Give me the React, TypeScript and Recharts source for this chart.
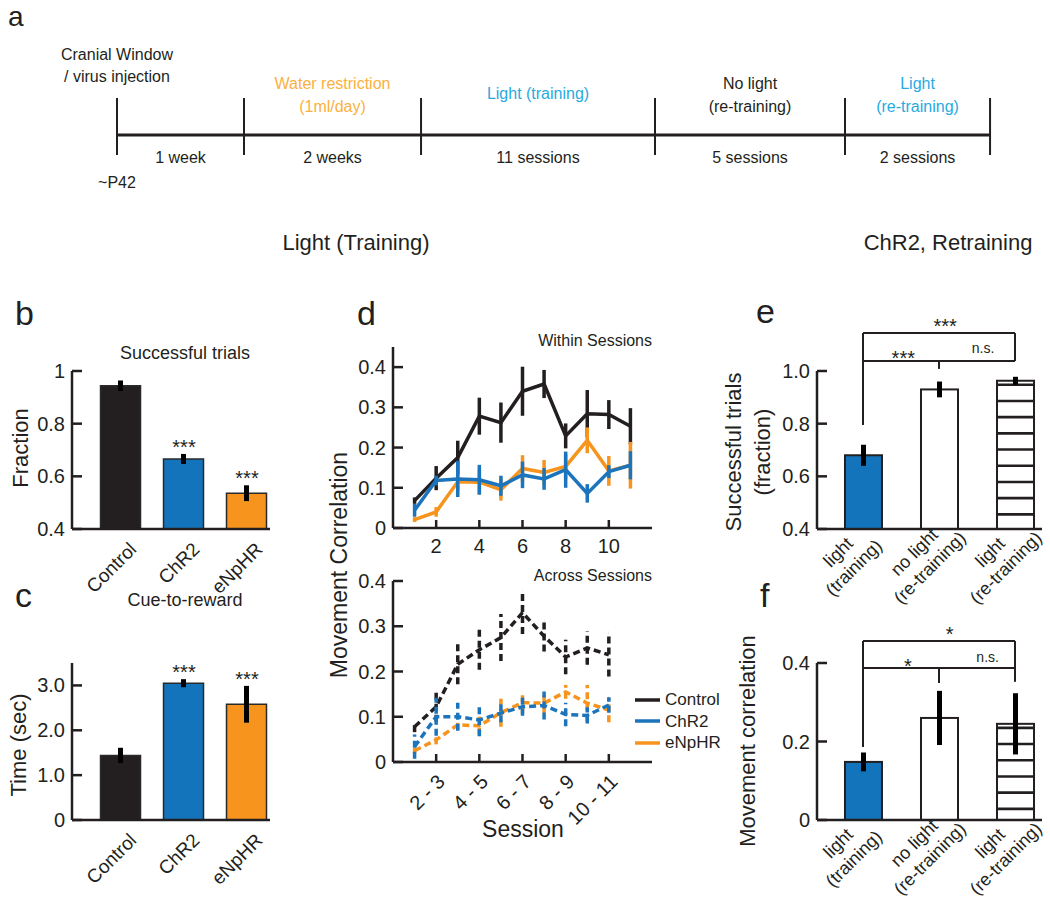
import React from 'react';
import {
  ComposedChart, Bar, Line, XAxis, YAxis, ErrorBar, Cell,
  ReferenceLine, ReferenceDot, Legend,
} from 'recharts';

const FONT = '"Liberation Sans", Arial, Helvetica, sans-serif';
const BLACK = '#231f20';
const BLUE = '#1c75bc';
const BAR_BLUE = '#1374bb';
const ORANGE = '#f7941d';
const TL_ORANGE = '#fbb040';
const TL_BLUE = '#27aae1';

// ---------- panel a (timeline) ----------
const stageEdges = [0, 1, 2.394, 4.236, 5.732, 6.874];
const stageDurations = ['1 week', '2 weeks', '11 sessions', '5 sessions', '2 sessions'];
const stageTitles: string[][] = [[], ['Water restriction', '(1ml/day)'], ['Light (training)'], ['No light', '(re-training)'], ['Light', '(re-training)']];
const stageTitleColors = [BLACK, TL_ORANGE, TL_BLUE, BLACK, TL_BLUE];
const startNotes = ['Cranial Window', '/ virus injection'];
const startAge = '~P42';

// ---------- panels b, c ----------
const groups = ['Control', 'ChR2', 'eNpHR'];
const groupColors = [BLACK, BAR_BLUE, ORANGE];
const successMean = [0.944, 0.666, 0.536];
const successErr = [0.02, 0.019, 0.03];
const successSig = ['', '***', '***'];
const successTicks = [0.4, 0.6, 0.8, 1];
const cueMean = [1.44, 3.05, 2.58];
const cueErr = [0.17, 0.09, 0.41];
const cueSig = ['', '***', '***'];
const cueTicks = [0, 1, 2, 3];

// ---------- panel d ----------
const sessions = [1, 2, 3, 4, 5, 6, 7, 8, 9, 10, 11];
const withinControl = [0.068, 0.124, 0.175, 0.278, 0.262, 0.34, 0.358, 0.229, 0.284, 0.282, 0.253];
const withinControlErr = [0.008, 0.03, 0.042, 0.046, 0.05, 0.061, 0.035, 0.031, 0.059, 0.036, 0.045];
const withinChR2 = [0.044, 0.118, 0.122, 0.12, 0.105, 0.132, 0.122, 0.145, 0.086, 0.14, 0.156];
const withinChR2Err = [0.016, 0.012, 0.045, 0.037, 0.025, 0.033, 0.027, 0.045, 0.023, 0.016, 0.035];
const withinEnphr = [0.021, 0.04, 0.115, 0.114, 0.095, 0.148, 0.138, 0.153, 0.218, 0.142, 0.156];
const withinEnphrErr = [0.006, 0.012, 0.023, 0.031, 0.027, 0.033, 0.031, 0.031, 0.032, 0.037, 0.058];
const sessionTicks = [2, 4, 6, 8, 10];

const sessionPairs = ['1 - 2', '2 - 3', '3 - 4', '4 - 5', '5 - 6', '6 - 7', '7 - 8', '8 - 9', '9 - 10', '10 - 11'];
const acrossControl = [0.078, 0.122, 0.216, 0.248, 0.275, 0.33, 0.278, 0.232, 0.252, 0.237];
const acrossControlErr = [0.012, 0.033, 0.044, 0.044, 0.052, 0.047, 0.034, 0.038, 0.037, 0.048];
const acrossChR2 = [0.034, 0.1, 0.1, 0.093, 0.108, 0.122, 0.125, 0.105, 0.103, 0.126];
const acrossChR2Err = [0.027, 0.042, 0.031, 0.036, 0.02, 0.02, 0.031, 0.026, 0.018, 0.017];
const acrossEnphr = [0.025, 0.049, 0.082, 0.08, 0.109, 0.131, 0.13, 0.155, 0.13, 0.115];
const acrossEnphrErr = [0.006, 0.01, 0.011, 0.02, 0.031, 0.023, 0.022, 0.015, 0.04, 0.027];
const corrTicks = [0, 0.1, 0.2, 0.3, 0.4];
const seriesColors = [BLACK, BLUE, ORANGE];

// ---------- panels e, f ----------
const condLine1 = ['light', 'no light', 'light'];
const condLine2 = ['(training)', '(re-training)', '(re-training)'];
const condPattern = ['blue', 'white', 'stripe'];
const retrainSuccessMean = [0.68, 0.93, 0.963];
const retrainSuccessErr = [0.04, 0.03, 0.015];
const retrainSuccessTicks = [0.4, 0.6, 0.8, 1.0];
const retrainCorrMean = [0.148, 0.26, 0.245];
const retrainCorrErr = [0.024, 0.069, 0.078];
const retrainCorrTicks = [0, 0.2, 0.4];
// bracket segments: [x1, y1, x2, y2]
const successBrackets = [[1, 1.144, 3, 1.144], [1, 0.795, 1, 1.144], [3, 1.038, 3, 1.144], [1, 1.038, 3, 1.038], [2, 1.008, 2, 1.038]];
const successSigLabels = [{ x: 2.08, y: 1.19, t: '***' }, { x: 1.53, y: 1.068, t: '***' }, { x: 2.58, y: 1.087, t: 'n.s.' }];
const corrBrackets = [[1, 0.456, 3, 0.456], [1, 0.186, 1, 0.456], [3, 0.352, 3, 0.456], [1, 0.387, 3, 0.387], [2, 0.349, 2, 0.387]];
const corrSigLabels = [{ x: 2.14, y: 0.487, t: '*' }, { x: 1.59, y: 0.405, t: '*' }, { x: 2.64, y: 0.415, t: 'n.s.' }];

// ---------- helpers ----------
const AX = { stroke: BLACK, strokeWidth: 2.5 };

const makeYTick = (fmt: (v: number) => string, size = 20) => (props: any) => {
  const { x, y, payload } = props;
  return (
    <g>
      <line x1={x + 7} x2={x + 17} y1={y} y2={y} stroke={BLACK} strokeWidth={2.5} />
      <text x={x} y={y} textAnchor="end" dominantBaseline="central" fontSize={size} fontFamily={FONT} fill={BLACK}>
        {fmt(payload.value)}
      </text>
    </g>
  );
};

const fmt1 = (v: number) => (v === 0 ? '0' : v.toFixed(1));
const fmtB = (v: number) => (v === 1 ? '1' : v.toFixed(1));

const GroupXTick = (props: any) => {
  const { x, y, payload } = props;
  const label = groups[payload.value - 1];
  return (
    <text transform={`translate(${x + 12},${y + 17}) rotate(-45)`} textAnchor="end" dominantBaseline="central"
      fontSize={19} fontFamily={FONT} fill={BLACK}>{label}</text>
  );
};

const CondXTick = (props: any) => {
  const { x, y, payload } = props;
  const i = payload.value - 1;
  return (
    <g transform={`translate(${x - 17},${y + 31}) rotate(-45)`}>
      <text x={0} y={-11} textAnchor="middle" dominantBaseline="central" fontSize={18} fontFamily={FONT} fill={BLACK}>{condLine1[i]}</text>
      <text x={0} y={11} textAnchor="middle" dominantBaseline="central" fontSize={18} fontFamily={FONT} fill={BLACK}>{condLine2[i]}</text>
    </g>
  );
};

const SessionXTick = (props: any) => {
  const { x, y, payload } = props;
  return (
    <g>
      <line x1={x} x2={x} y1={y} y2={y - 8} stroke={BLACK} strokeWidth={2.5} />
      <text x={x} y={y + 18} textAnchor="middle" dominantBaseline="central" fontSize={20} fontFamily={FONT} fill={BLACK}>{payload.value}</text>
    </g>
  );
};

const PairXTick = (props: any) => {
  const { x, y, payload } = props;
  return (
    <g>
      <line x1={x} x2={x} y1={y} y2={y - 8} stroke={BLACK} strokeWidth={2.5} />
      <text transform={`translate(${x + 5},${y + 16}) rotate(-45)`} textAnchor="end" dominantBaseline="central"
        fontSize={20} fontFamily={FONT} fill={BLACK}>{sessionPairs[payload.value - 1]}</text>
    </g>
  );
};

const sigShape = (t: string) => (p: any) => {
  if (t === 'n.s.') {
    return <text x={p.cx} y={p.cy} textAnchor="middle" dominantBaseline="central" fontSize={14} fontFamily={FONT} fill={BLACK}>{t}</text>;
  }
  return <text x={p.cx} y={p.cy + 12} textAnchor="middle" fontSize={20} fontFamily={FONT} fill={BLACK}>{t}</text>;
};

const barSigShape = (t: string) => (p: any) => (
  <text x={p.cx} y={p.cy} textAnchor="middle" fontSize={20} fontFamily={FONT} fill={BLACK}>{t}</text>
);

const ConditionBar = (props: any) => {
  const { x, y, width, height, index } = props;
  const pattern = props.payload?.pattern ?? condPattern[index];
  const stripes: React.ReactNode[] = [];
  if (pattern === 'stripe') {
    for (let yy = y + 4; yy < y + height - 4; yy += 16.2) {
      stripes.push(<line key={yy} x1={x} x2={x + width} y1={yy} y2={yy} stroke={BLACK} strokeWidth={2.6} />);
    }
  }
  return (
    <g>
      <rect x={x} y={y} width={width} height={height} fill={pattern === 'blue' ? BAR_BLUE : '#ffffff'} stroke={BLACK} strokeWidth={2} />
      {stripes}
    </g>
  );
};

// ---------- panel a ----------
const stageLabelShape = (i: number) => (p: any) => {
  const above = stageTitles[i];
  const ys = above.length === 2 ? [-52, -29] : [-42];
  return (
    <g>
      {above.map((t, k) => (
        <text key={k} x={p.cx} y={p.cy + ys[k]} textAnchor="middle" dominantBaseline="central" fontSize={16} fontFamily={FONT} fill={stageTitleColors[i]}>{t}</text>
      ))}
      <text x={p.cx} y={p.cy + 22} textAnchor="middle" dominantBaseline="central" fontSize={16} fontFamily={FONT} fill={BLACK}>{stageDurations[i]}</text>
    </g>
  );
};
const StartLabel = (p: any) => (
  <g>
    <text x={p.cx} y={p.cy - 81} textAnchor="middle" dominantBaseline="central" fontSize={16} fontFamily={FONT} fill={BLACK}>{startNotes[0]}</text>
    <text x={p.cx} y={p.cy - 59} textAnchor="middle" dominantBaseline="central" fontSize={16} fontFamily={FONT} fill={BLACK}>{startNotes[1]}</text>
    <text x={p.cx} y={p.cy + 47} textAnchor="middle" dominantBaseline="central" fontSize={16} fontFamily={FONT} fill={BLACK}>{startAge}</text>
  </g>
);

function Timeline() {
  const edgeData = stageEdges.map((t) => ({ t, y: 0 }));
  return (
    <div style={{ position: 'absolute', left: 0, top: 0 }}>
      <ComposedChart width={1050} height={200} data={edgeData} margin={{ top: 0, right: 0, bottom: 0, left: 0 }}>
        <XAxis type="number" dataKey="t" domain={[-0.921, 7.346]} hide />
        <YAxis type="number" domain={[-65, 135]} hide />
        <Line dataKey="y" stroke={BLACK} strokeWidth={3} dot={false} activeDot={false} isAnimationActive={false} />
        {stageEdges.map((e, i) => (
          <ReferenceLine key={`e${i}`} segment={[{ x: e, y: -20 }, { x: e, y: 37 }]} stroke={BLACK} strokeWidth={2} ifOverflow="visible" />
        ))}
        {stageDurations.map((_, i) => (
          <ReferenceDot key={`s${i}`} x={(stageEdges[i] + stageEdges[i + 1]) / 2} y={0} r={0} ifOverflow="visible" shape={stageLabelShape(i)} />
        ))}
        <ReferenceDot x={stageEdges[0]} y={0} r={0} ifOverflow="visible" shape={StartLabel} />
      </ComposedChart>
    </div>
  );
}

// ---------- panels b, c ----------
function GroupBars(props: {
  top: number; means: number[]; errs: number[]; sigs: string[]; ticks: number[]; domain: [number, number];
  fmt: (v: number) => string; plotTop: number; plotBottom: number;
}) {
  const { top, means, errs, sigs, ticks, domain, fmt, plotTop, plotBottom } = props;
  const H = 300;
  const data = groups.map((g, i) => ({ x: i + 1, name: g, v: means[i], err: errs[i] }));
  return (
    <div style={{ position: 'absolute', left: 0, top }}>
      <ComposedChart width={290} height={H} data={data} margin={{ top: plotTop, right: 20, bottom: 0, left: 12 }}>
        <XAxis type="number" dataKey="x" domain={[0.222, 3.365]} ticks={[1, 2, 3]} interval={0} height={H - plotBottom}
          tickSize={0} tickMargin={0} tickLine={false} axisLine={AX} tick={GroupXTick} />
        <YAxis type="number" domain={domain} ticks={ticks} interval={0} width={60} tickSize={0} tickMargin={7}
          tickLine={false} axisLine={AX} tick={makeYTick(fmt)} />
        <Bar dataKey="v" barSize={40} stroke="#2a2a2a" strokeWidth={1.5} isAnimationActive={false}>
          {data.map((d, i) => <Cell key={i} fill={groupColors[i]} />)}
          <ErrorBar dataKey="err" width={0} strokeWidth={5} stroke="#000" isAnimationActive={false} />
        </Bar>
        {sigs.map((s, i) => (s ? (
          <ReferenceDot key={i} x={i + 1} y={means[i] + errs[i]} r={0} ifOverflow="visible" shape={barSigShape(s)} />
        ) : null))}
      </ComposedChart>
    </div>
  );
}

// ---------- panel d ----------
function SessionLines(props: {
  top: number; height: number; plotTop: number; plotBottom: number; domain: [number, number];
  xs: number[]; series: number[][]; errs: number[][]; dashed: boolean; tick: any; legend?: boolean;
}) {
  const { top, height, plotTop, plotBottom, domain, xs, series, errs, dashed, tick, legend } = props;
  const data = xs.map((s, i) => ({
    s,
    c: series[0][i], ce: errs[0][i],
    h: series[1][i], he: errs[1][i],
    n: series[2][i], ne: errs[2][i],
  }));
  const dash = dashed ? '7 4' : undefined;
  const keys = [['c', 'ce', 0], ['n', 'ne', 2], ['h', 'he', 1]] as const;
  return (
    <div style={{ position: 'absolute', left: 320, top }}>
      <ComposedChart width={350} height={height} data={data} margin={{ top: plotTop, right: 18, bottom: 0, left: 13 }}>
        <XAxis type="number" dataKey="s" domain={[0, 12]} ticks={sessionTicks} interval={0} height={height - plotBottom}
          tickSize={0} tickMargin={0} tickLine={false} axisLine={AX} tick={tick} />
        <YAxis type="number" domain={domain} ticks={corrTicks} interval={0} width={60} tickSize={0} tickMargin={7}
          tickLine={false} axisLine={AX} tick={makeYTick(fmt1)} />
        {keys.map(([k, ek, ci]) => (
          <Line key={k} dataKey={k} stroke={seriesColors[ci]} strokeWidth={3.5} strokeDasharray={dash} dot={false}
            activeDot={false} isAnimationActive={false}>
            <ErrorBar dataKey={ek} direction="y" width={0} strokeWidth={3.5} stroke={seriesColors[ci]}
              strokeDasharray={dash} isAnimationActive={false} />
          </Line>
        ))}
        {legend ? (
          <Legend layout="vertical" align="center" verticalAlign="middle"
            wrapperStyle={{ left: 315, top: 139, width: 110, height: 66 }}
            content={() => (
              <div style={{ fontFamily: FONT }}>
                {groups.map((g, i) => (
                  <div key={g} style={{ display: 'flex', alignItems: 'center', height: 21.5 }}>
                    <svg width={25} height={4} style={{ display: 'block' }}>
                      <line x1={0} x2={25} y1={2} y2={2} stroke={seriesColors[i]} strokeWidth={3.5} />
                    </svg>
                    <span style={{ marginLeft: 5, fontSize: 17, color: BLACK, lineHeight: '21px' }}>{g}</span>
                  </div>
                ))}
              </div>
            )}
          />
        ) : null}
      </ComposedChart>
    </div>
  );
}

// ---------- panels e, f ----------
function ConditionBars(props: {
  top: number; height: number; plotTop: number; plotBottom: number; domain: [number, number]; ticks: number[];
  fmt: (v: number) => string; means: number[]; errs: number[]; brackets: number[][]; labels: { x: number; y: number; t: string }[];
}) {
  const { top, height, plotTop, plotBottom, domain, ticks, fmt, means, errs, brackets, labels } = props;
  const data = condLine1.map((_, i) => ({ x: i + 1, v: means[i], err: errs[i], pattern: condPattern[i] }));
  return (
    <div style={{ position: 'absolute', left: 690, top }}>
      <ComposedChart width={360} height={height} data={data} margin={{ top: plotTop, right: 8, bottom: 0, left: 67 }}>
        <XAxis type="number" dataKey="x" domain={[0.395, 3.355]} ticks={[1, 2, 3]} interval={0} height={height - plotBottom}
          tickSize={0} tickMargin={0} tickLine={false} axisLine={AX} tick={CondXTick} />
        <YAxis type="number" domain={domain} ticks={ticks} interval={0} width={60} tickSize={0} tickMargin={7}
          tickLine={false} axisLine={AX} tick={makeYTick(fmt)} />
        <Bar dataKey="v" barSize={37} shape={ConditionBar} isAnimationActive={false}>
          <ErrorBar dataKey="err" width={0} strokeWidth={5} stroke="#000" isAnimationActive={false} />
        </Bar>
        {brackets.map((b, i) => (
          <ReferenceLine key={i} segment={[{ x: b[0], y: b[1] }, { x: b[2], y: b[3] }]} stroke={BLACK} strokeWidth={2}
            ifOverflow="visible" />
        ))}
        {labels.map((l, i) => (
          <ReferenceDot key={i} x={l.x} y={l.y} r={0} ifOverflow="visible" shape={sigShape(l.t)} />
        ))}
      </ComposedChart>
    </div>
  );
}

// ---------- overlay text ----------
const T = (p: { x: number; y: number; children: React.ReactNode; size?: number; anchor?: 'start' | 'middle' | 'end'; rot?: number; base?: string }) => (
  <text x={p.x} y={p.y} fontSize={p.size ?? 20} textAnchor={p.anchor ?? 'middle'} dominantBaseline={p.base ?? 'central'}
    fill={BLACK} fontFamily={FONT} transform={p.rot ? `rotate(${p.rot} ${p.x} ${p.y})` : undefined}>{p.children}</text>
);

function Overlay() {
  return (
    <svg width={1050} height={910} style={{ position: 'absolute', left: 0, top: 0, pointerEvents: 'none' }}>
      <T x={8} y={26} size={28} anchor="start" base="alphabetic">a</T>
      <T x={356} y={242} size={22}>Light (Training)</T>
      <T x={948} y={242} size={22}>ChR2, Retraining</T>

      <T x={15} y={325} size={34} anchor="start" base="alphabetic">b</T>
      <T x={185} y={353} size={18}>Successful trials</T>
      <T x={20} y={448} size={22} rot={-90}>Fraction</T>

      <T x={15} y={607} size={34} anchor="start" base="alphabetic">c</T>
      <T x={185} y={600} size={18}>Cue-to-reward</T>
      <T x={18} y={745} size={22} rot={-90}>Time (sec)</T>

      <T x={357} y={325} size={34} anchor="start" base="alphabetic">d</T>
      <T x={652} y={340} size={16} anchor="end">Within Sessions</T>
      <T x={652} y={575} size={16} anchor="end">Across Sessions</T>
      <T x={339} y={565} size={23} rot={-90}>Movement Correlation</T>
      <T x={523} y={829} size={23}>Session</T>

      <T x={756} y={323} size={34} anchor="start" base="alphabetic">e</T>
      <T x={733} y={452} size={22} rot={-90}>Successful trials</T>
      <T x={762} y={452} size={22} rot={-90}>(fraction)</T>

      <T x={760} y={607} size={34} anchor="start" base="alphabetic">f</T>
      <T x={747} y={741} size={22} rot={-90}>Movement correlation</T>
    </svg>
  );
}

export default function App() {
  return (
    <div style={{ position: 'absolute', left: 0, top: 0, width: 1050, height: 910, background: '#fff', overflow: 'hidden', fontFamily: FONT }}>
      <Timeline />
      <GroupBars top={300} means={successMean} errs={successErr} sigs={successSig} ticks={successTicks} domain={[0.4, 1]}
        fmt={fmtB} plotTop={71} plotBottom={229} />
      <GroupBars top={600} means={cueMean} errs={cueErr} sigs={cueSig} ticks={cueTicks} domain={[0, 3.5]}
        fmt={fmt1} plotTop={63} plotBottom={220} />
      <SessionLines top={300} height={266} plotTop={47} plotBottom={228} domain={[0, 0.45]} xs={sessions}
        series={[withinControl, withinChR2, withinEnphr]} errs={[withinControlErr, withinChR2Err, withinEnphrErr]}
        dashed={false} tick={SessionXTick} />
      <SessionLines top={550} height={320} plotTop={31} plotBottom={212} domain={[0, 0.4]} xs={sessions.slice(0, 10)}
        series={[acrossControl, acrossChR2, acrossEnphr]} errs={[acrossControlErr, acrossChR2Err, acrossEnphrErr]}
        dashed tick={PairXTick} legend />
      <ConditionBars top={300} height={320} plotTop={71} plotBottom={229} domain={[0.4, 1.0]} ticks={retrainSuccessTicks}
        fmt={(v) => v.toFixed(1)} means={retrainSuccessMean} errs={retrainSuccessErr} brackets={successBrackets} labels={successSigLabels} />
      <ConditionBars top={600} height={310} plotTop={63} plotBottom={220} domain={[0, 0.4]} ticks={retrainCorrTicks}
        fmt={fmt1} means={retrainCorrMean} errs={retrainCorrErr} brackets={corrBrackets} labels={corrSigLabels} />
      <Overlay />
    </div>
  );
}
